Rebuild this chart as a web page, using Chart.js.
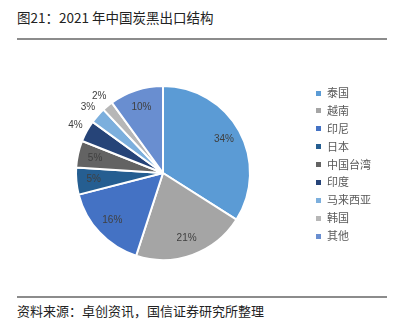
<!DOCTYPE html>
<html><head><meta charset="utf-8">
<script src="https://cdn.jsdelivr.net/npm/chart.js@4"></script>
<style>
html,body{margin:0;padding:0;background:#fff;}
body{width:404px;height:328px;position:relative;overflow:hidden;font-family:"Noto Sans CJK SC","Noto Sans",sans-serif;}
#title{position:absolute;left:17px;top:7px;font-size:13.5px;color:#222;white-space:nowrap;}
#l1{position:absolute;left:17px;top:38px;width:370px;height:2px;background:#8c8c8c;}
#l2{position:absolute;left:17px;top:296px;width:370px;height:2px;background:#8c8c8c;}
#src{position:absolute;left:17px;top:301px;font-size:13px;color:#222;white-space:nowrap;}
#cv{position:absolute;left:0;top:40px;}
#legend{position:absolute;left:316px;top:84px;font-size:11px;color:#595959;}
#legend div{height:17.9px;line-height:17.9px;white-space:nowrap;}
#legend span{display:inline-block;width:5px;height:5px;margin-right:6px;vertical-align:middle;position:relative;top:-1px;}
</style></head>
<body>
<div id="title">图21：2021 年中国炭黑出口结构</div>
<div id="l1"></div>
<canvas id="cv" width="404" height="255"></canvas>
<div id="legend"></div>
<div id="l2"></div>
<div id="src">资料来源：卓创资讯，国信证券研究所整理</div>
<script>
const categories = ["泰国","越南","印尼","日本","中国台湾","印度","马来西亚","韩国","其他"];
const shares = [34,21,16,5,5,4,3,2,10];
const labels = ["34%","21%","16%","5%","5%","4%","3%","2%","10%"];
const colors = ["#5B9BD5","#A5A5A5","#4472C4","#255E91","#636363","#264478","#7CAFDD","#B7B7B7","#698ED0"];

const lg = document.getElementById('legend');
categories.forEach((c,i)=>{
  const d=document.createElement('div');
  d.innerHTML='<span style="background:'+colors[i]+'"></span>'+c;
  lg.appendChild(d);
});

const labelPlugin = {
  id:'sliceLabels',
  afterDatasetsDraw(chart){
    const ctx=chart.ctx;
    const meta=chart.getDatasetMeta(0);
    ctx.save();
    ctx.font='10px "Liberation Sans", Arial, sans-serif';
    ctx.fillStyle='#404040';
    ctx.textAlign='center';ctx.textBaseline='middle';
    meta.data.forEach((arc,i)=>{
      const {x,y,startAngle,endAngle,outerRadius}=arc.getProps(['x','y','startAngle','endAngle','outerRadius'],true);
      const mid=(startAngle+endAngle)/2;
      const r = shares[i] < 5 ? outerRadius+13 : outerRadius*0.8;
      ctx.fillText(labels[i], x+Math.cos(mid)*r, y+Math.sin(mid)*r);
    });
    ctx.restore();
  }
};

new Chart(document.getElementById('cv'),{
  type:'pie',
  data:{labels:categories,datasets:[{data:shares,backgroundColor:colors,borderColor:'#ffffff',borderWidth:2}]},
  options:{
    responsive:false,animation:false,
    layout:{padding:{left:75,right:153,top:45,bottom:34}},
    plugins:{legend:{display:false},tooltip:{enabled:false}}
  },
  plugins:[labelPlugin]
});
</script>
</body></html>
